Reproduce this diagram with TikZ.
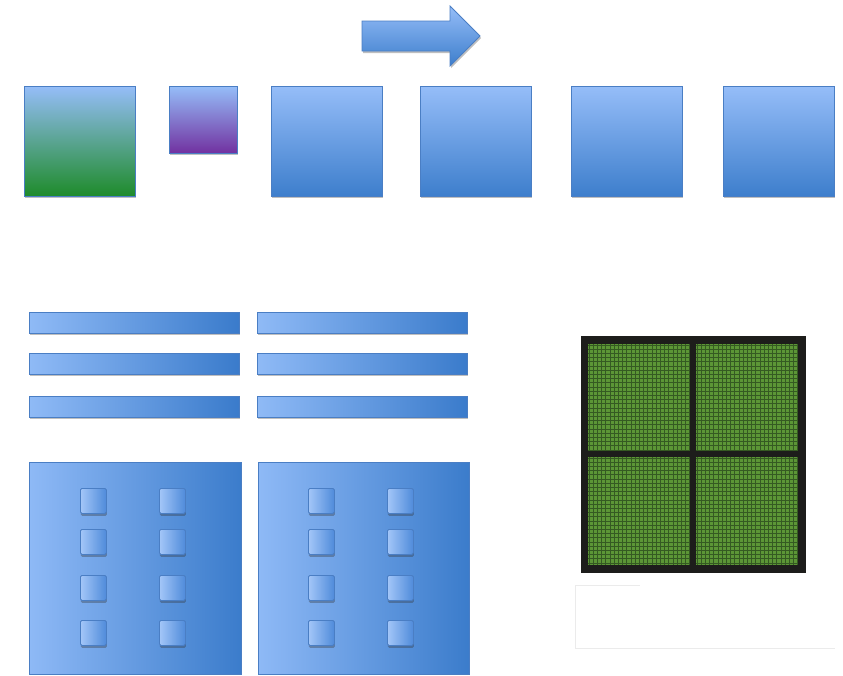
\documentclass[tikz,border=0pt]{standalone}
\usetikzlibrary{shadows}
\definecolor{boxtop}{HTML}{95BDF8}
\definecolor{boxbot}{HTML}{3D7ECC}
\definecolor{boxline}{HTML}{4A7EC4}
\definecolor{greenbot}{HTML}{1E8B2A}
\definecolor{purplebot}{HTML}{7131A0}
\definecolor{barlight}{HTML}{8FBAF6}
\definecolor{bardark}{HTML}{3A7BCB}
\definecolor{panellight}{HTML}{8EB9F6}
\definecolor{paneldark}{HTML}{3B7CCB}
\definecolor{keylight}{HTML}{A3C6F8}
\definecolor{keydark}{HTML}{4F8BDA}
\definecolor{dieframe}{HTML}{1D1D1B}
\definecolor{diegreen}{HTML}{5C9636}
\definecolor{diegrid}{HTML}{355A22}
\tikzset{
  x=1pt, y=-1pt,
  softshadow/.style={drop shadow={shadow xshift=1pt, shadow yshift=-2pt, opacity=0.25, fill=black}},
  tile/.style={draw=boxline, line width=0.8pt, anchor=north west, inner sep=0pt,
    minimum width=111pt, minimum height=110pt, top color=boxtop, bottom color=boxbot, softshadow},
  bar/.style={draw=boxline, line width=0.8pt, anchor=north west, inner sep=0pt,
    minimum width=210pt, minimum height=21pt, left color=barlight, right color=bardark, softshadow},
  panel/.style={draw=boxline, line width=0.8pt, anchor=north west, inner sep=0pt,
    minimum width=212pt, minimum height=212pt, left color=panellight, right color=paneldark},
  keybox/.style={draw=boxline, line width=0.8pt, anchor=north west, inner sep=0pt,
    minimum width=26pt, minimum height=25pt, left color=keylight, right color=keydark,
    rounded corners=1.5pt,
    drop shadow={shadow xshift=0.5pt, shadow yshift=-2.5pt, opacity=0.35, fill=black!80}},
}
\begin{document}
\begin{tikzpicture}
\useasboundingbox[fill=white] (0,0) rectangle (843,675);

% direction arrow
\path[draw=boxline, line width=0.8pt, top color=boxtop, bottom color=boxbot, softshadow]
  (362,21) -- (450,21) -- (450,6) -- (480,36) -- (450,66) -- (450,51) -- (362,51) -- cycle;

% top row of tiles
\node[tile, bottom color=greenbot] (t1) at (24,86) {};
\node[tile, bottom color=purplebot, minimum width=68pt, minimum height=67pt] (t2) at (169,86) {};
\node[tile] (t3) at (271,86) {};
\node[tile] (t4) at (420,86) {};
\node[tile] (t5) at (571,86) {};
\node[tile] (t6) at (723,86) {};

% bars
\foreach \r/\y in {1/312, 2/353, 3/396} {
  \node[bar] (bl\r) at (29,\y) {};
  \node[bar] (br\r) at (257,\y) {};
}

% panels with keys
\node[panel] (pl) at (29,462) {};
\node[panel, minimum width=211pt] (pr) at (258,462) {};
\foreach \r/\y in {1/488, 2/529, 3/575, 4/620} {
  \node[keybox] (kla\r) at (80,\y) {};
  \node[keybox] (klb\r) at (159,\y) {};
  \node[keybox] (kra\r) at (308,\y) {};
  \node[keybox] (krb\r) at (387,\y) {};
}

% die with four quadrants
\fill[dieframe] (581,336) rectangle (806,573);
\foreach \xa/\xb/\ya/\yb in {588/690/344/451, 696/798/344/451, 588/690/457/565, 696/798/457/565} {
  \begin{scope}
    \clip (\xa,\ya) rectangle (\xb,\yb);
    \fill[diegreen] (\xa,\ya) rectangle (\xb,\yb);
    \foreach \k in {0,...,25} {
      \draw[diegrid, line width=1pt] ({\xa+1+\k*4.2},\ya) -- ({\xa+1+\k*4.2},\yb);
      \draw[diegrid, line width=1pt] (\xa,{\ya+1+\k*4.2}) -- (\xb,{\ya+1+\k*4.2});
    }
  \end{scope}
}

% faint frame below the die
\draw[black!8, line width=0.6pt] (575,585) -- (575,648) -- (835,648);
\draw[black!8, line width=0.6pt] (575,585) -- (640,585);
\end{tikzpicture}
\end{document}
